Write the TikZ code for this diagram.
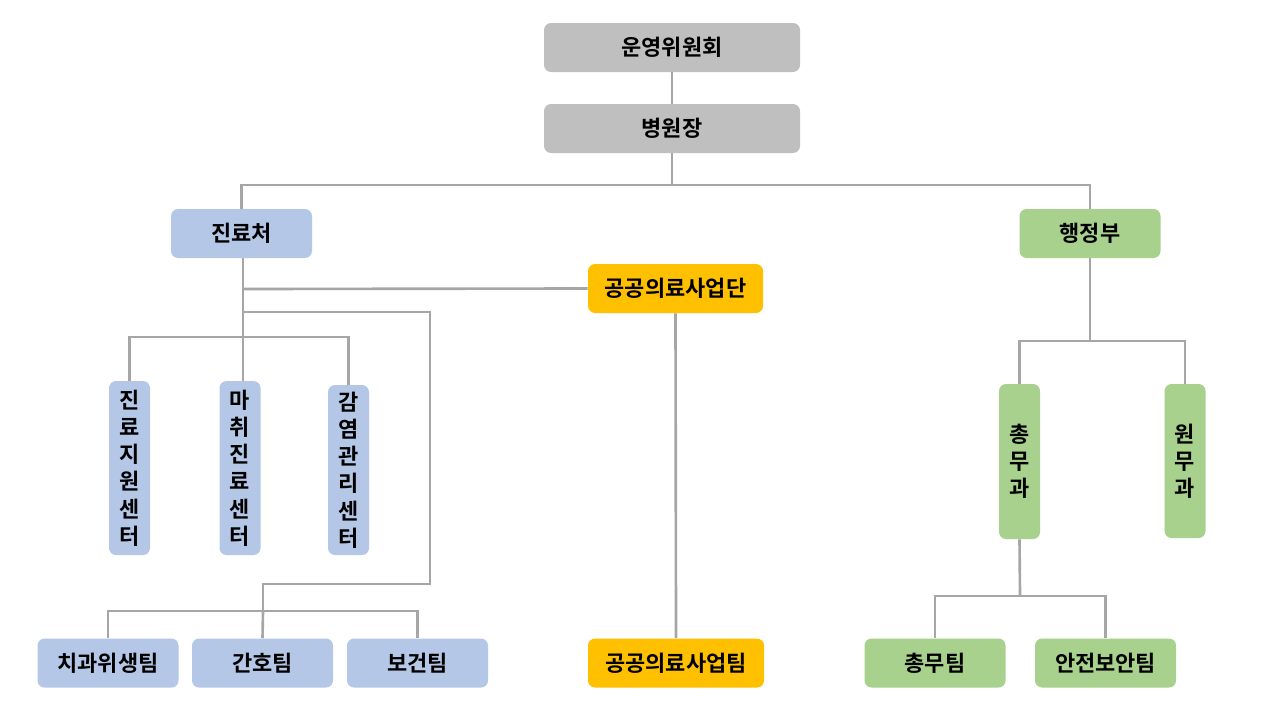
\documentclass[tikz,border=0pt]{standalone}
\usepackage{fontspec}
\newfontfamily\kr{Noto Sans CJK KR}[BoldFont={* Bold}]
\definecolor{cgray}{HTML}{BFBFBF}
\definecolor{cblue}{HTML}{B4C7E7}
\definecolor{cgreen}{HTML}{A9D18E}
\definecolor{corange}{HTML}{FFC000}
\definecolor{cline}{HTML}{A6A6A6}
\begin{document}
\begin{tikzpicture}[x=0.02cm,y=-0.02cm,
  box/.style={rounded corners=4pt, inner sep=0pt, font=\kr\bfseries\fontsize{12.5}{14}\selectfont, text=black},
  hbox/.style={box, minimum width=141*0.02cm, minimum height=49*0.02cm},
  vbox/.style={box, minimum width=41*0.02cm, align=center, font=\kr\bfseries\fontsize{12.5}{15.5}\selectfont},
  conn/.style={draw=cline, line width=1.5pt}]
\path[use as bounding box] (0,0) rectangle (1280,720);
\fill[white] (0,0) rectangle (1280,720);
% top
\node[hbox, fill=cgray, minimum width=256*0.02cm] (uy) at (672,47.5) {운영위원회};
\node[hbox, fill=cgray, minimum width=256*0.02cm] (bw) at (672,128.5) {병원장};
\node[hbox, fill=cblue] (jr) at (241.5,233.5) {진료처};
\node[hbox, fill=cgreen] (hj) at (1090,233.5) {행정부};
\node[hbox, fill=corange, minimum width=175*0.02cm] (gd) at (675.5,288.5) {공공의료사업단};
% centers
\node[vbox, fill=cblue, minimum height=174*0.02cm] (c1) at (129.5,468) {진\\료\\지\\원\\센\\터};
\node[vbox, fill=cblue, minimum height=174*0.02cm] (c2) at (240,468) {마\\취\\진\\료\\센\\터};
\node[vbox, fill=cblue, minimum height=170*0.02cm] (c3) at (348.5,470) {감\\염\\관\\리\\센\\터};
\node[vbox, fill=cgreen, minimum height=155*0.02cm] (g1) at (1019.5,461.5) {총\\무\\과};
\node[vbox, fill=cgreen, minimum height=154*0.02cm] (g2) at (1185,461) {원\\무\\과};
% teams
\node[hbox, fill=cblue] (t1) at (108,663) {치과위생팀};
\node[hbox, fill=cblue] (t2) at (262.5,663) {간호팀};
\node[hbox, fill=cblue] (t3) at (417.5,663) {보건팀};
\node[hbox, fill=corange, minimum width=176*0.02cm] (t4) at (676,663) {공공의료사업팀};
\node[hbox, fill=cgreen] (t5) at (935,663) {총무팀};
\node[hbox, fill=cgreen] (t6) at (1105.5,663) {안전보안팀};
% coordinates
\coordinate (a1) at (672,185);
\coordinate (a2) at (241,185);
\coordinate (a3) at (1090,185);
\coordinate (j1) at (243,289);
\coordinate (j2) at (243,312);
\coordinate (j3) at (243,337);
\coordinate (k1) at (430,312);
\coordinate (k2) at (430,584);
\coordinate (k3) at (263,584);
\coordinate (k4) at (263,611);
\coordinate (h1) at (1090,341);
\coordinate (m1) at (1020,596);
% connectors
\draw[conn] (uy.south) -- (bw.north);
\draw[conn] (bw.south) -- (a1);
\draw[conn] (jr.north) |- (a3) -- (hj.north);
\draw[conn] (jr.south -| j3) -- (j3);
\draw[conn] (j1) -- (gd.west);
\draw[conn] (j2) -- (k1) -- (k2) -- (k3) -- (k4);
\draw[conn] (c1.north) |- (j3) -| (c3.north);
\draw[conn] (j3) -- (c2.north -| j3);
\draw[conn] (t1.north) |- (k4) -| (t3.north);
\draw[conn] (k4) -- (t2.north);
\draw[conn] (gd.south) -- (t4.north);
\draw[conn] (hj.south) -- (h1);
\draw[conn] (g1.north) |- (h1) -| (g2.north);
\draw[conn] (g1.south) -- (m1);
\draw[conn] (t5.north) |- (m1) -| (t6.north);
\end{tikzpicture}
\end{document}
